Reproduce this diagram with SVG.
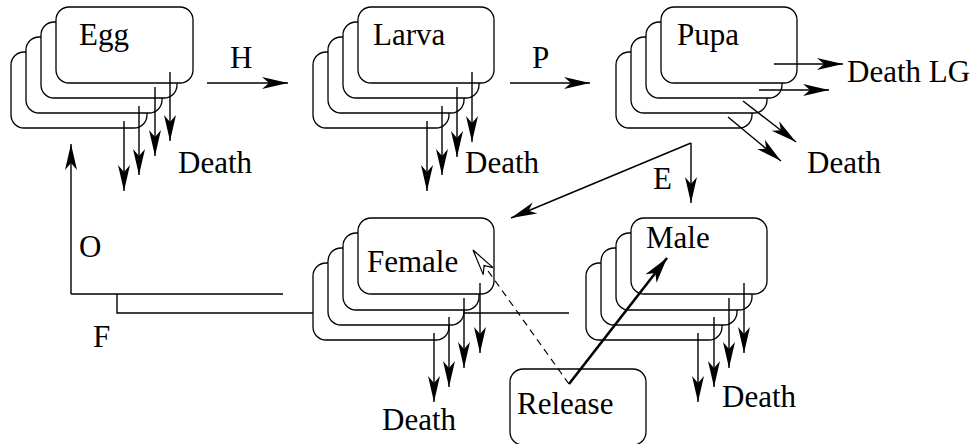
<svg xmlns="http://www.w3.org/2000/svg" width="979" height="444" viewBox="0 0 979 444">
<style>
.box{fill:#fff;stroke:#000;stroke-width:1.3}
.ln{fill:none;stroke:#000;stroke-width:1.4}
.arr{marker-end:url(#ah)}
.thick{fill:none;stroke:#000;stroke-width:2.6;marker-end:url(#ahb)}
.dash{fill:none;stroke:#000;stroke-width:1.2;stroke-dasharray:7 5;marker-end:url(#aho)}
text{font-family:"Liberation Serif","Times New Roman",serif;font-size:31px;fill:#000}
</style>
<defs>
<marker id="ah" markerUnits="userSpaceOnUse" orient="auto" refX="0" refY="0" markerWidth="30" markerHeight="16" viewBox="-28 -8 30 16" overflow="visible">
<path d="M0,0 L-26,-6 L-19,0 L-26,6 Z" fill="#000"/>
</marker>
<marker id="ahb" markerUnits="userSpaceOnUse" orient="auto" refX="0" refY="0" markerWidth="30" markerHeight="16" viewBox="-28 -8 30 16" overflow="visible">
<path d="M0,0 L-26,-7 L-19,0 L-26,7 Z" fill="#000"/>
</marker>
<marker id="aho" markerUnits="userSpaceOnUse" orient="auto" refX="0" refY="0" markerWidth="30" markerHeight="16" viewBox="-28 -8 30 16" overflow="visible">
<path d="M0,0 L-26,-6 L-19,0 L-26,6 Z" fill="#fff" stroke="#000" stroke-width="1.2"/>
</marker>
</defs>
<rect width="979" height="444" fill="#fff"/>

<g id="connectors-under">
<path class="ln" d="M71,294 L283,294"/>
<path class="ln" d="M117,294 L117,313 L313,313"/>
</g>

<g id="egg">
<rect class="box" x="11" y="52" width="136" height="76" rx="13"/>
<rect class="box" x="26" y="37" width="136" height="76" rx="13"/>
<rect class="box" x="41" y="22" width="136" height="76" rx="13"/>
<rect class="box" x="56" y="7" width="137" height="76" rx="13"/>
<text x="79" y="45">Egg</text>
</g>
<g id="larva">
<rect class="box" x="313" y="52" width="136" height="76" rx="13"/>
<rect class="box" x="328" y="37" width="136" height="76" rx="13"/>
<rect class="box" x="343" y="22" width="136" height="76" rx="13"/>
<rect class="box" x="358" y="7" width="136" height="76" rx="13"/>
<text x="373" y="45">Larva</text>
</g>
<g id="pupa">
<rect class="box" x="616" y="52" width="136" height="76" rx="13"/>
<rect class="box" x="631" y="37" width="136" height="76" rx="13"/>
<rect class="box" x="646" y="22" width="136" height="76" rx="13"/>
<rect class="box" x="661" y="7" width="136" height="76" rx="13"/>
<text x="677" y="45">Pupa</text>
</g>
<g id="female">
<rect class="box" x="313" y="263" width="136" height="77" rx="13"/>
<rect class="box" x="328" y="248" width="136" height="77" rx="13"/>
<rect class="box" x="343" y="233" width="136" height="77" rx="13"/>
<rect class="box" x="358" y="218" width="136" height="76" rx="13"/>
<text x="367" y="272">Female</text>
</g>
<g id="male">
<rect class="box" x="586" y="263" width="136" height="77" rx="13"/>
<rect class="box" x="601" y="248" width="136" height="77" rx="13"/>
<rect class="box" x="616" y="233" width="136" height="77" rx="13"/>
<rect class="box" x="631" y="218" width="136" height="76" rx="13"/>
<text x="646" y="248">Male</text>
</g>
<g id="release">
<rect class="box" x="510" y="369" width="136" height="76" rx="13"/>
<text x="517" y="414">Release</text>
</g>

<g id="connectors">
<path class="ln" d="M464,313 L569,313"/>
<path class="ln arr" d="M71,294 L71,144"/>
<path class="ln arr" d="M207,83 L288,83"/>
<path class="ln arr" d="M510,83 L590,83"/>
<path class="ln arr" d="M691,143 L511,218"/>
<path class="ln arr" d="M691,143 L691,203"/>
<path class="dash" d="M569,384 L473,250"/>
<path class="thick" d="M569,384 L667,258"/>
<!-- egg deaths -->
<path class="ln arr" d="M170,72 L170,141"/>
<path class="ln arr" d="M155,87 L155,156"/>
<path class="ln arr" d="M139,106 L139,175"/>
<path class="ln arr" d="M124,121 L124,191"/>
<!-- larva deaths -->
<path class="ln arr" d="M472,72 L472,142"/>
<path class="ln arr" d="M457,87 L457,157"/>
<path class="ln arr" d="M442,106 L442,175"/>
<path class="ln arr" d="M427,121 L427,191"/>
<!-- pupa deaths -->
<path class="ln arr" d="M774,64 L843,64"/>
<path class="ln arr" d="M759,90 L829,90"/>
<path class="ln arr" d="M743,101 L796,142"/>
<path class="ln arr" d="M728,117 L781,161"/>
<!-- female deaths -->
<path class="ln arr" d="M480,283 L480,353"/>
<path class="ln arr" d="M464,298 L464,368"/>
<path class="ln arr" d="M449,317 L449,387"/>
<path class="ln arr" d="M434,333 L434,402"/>
<!-- male deaths -->
<path class="ln arr" d="M744,283 L744,353"/>
<path class="ln arr" d="M729,298 L729,368"/>
<path class="ln arr" d="M714,317 L714,387"/>
<path class="ln arr" d="M698,333 L698,402"/>
</g>

<g id="labels">
<text x="230" y="68">H</text>
<text x="532" y="68">P</text>
<text x="847" y="82">Death LG</text>
<text x="178" y="173">Death</text>
<text x="465" y="173">Death</text>
<text x="807" y="173">Death</text>
<text x="653" y="189">E</text>
<text x="79" y="257">O</text>
<text x="93" y="347">F</text>
<text x="382" y="430">Death</text>
<text x="722" y="407">Death</text>
</g>
</svg>
